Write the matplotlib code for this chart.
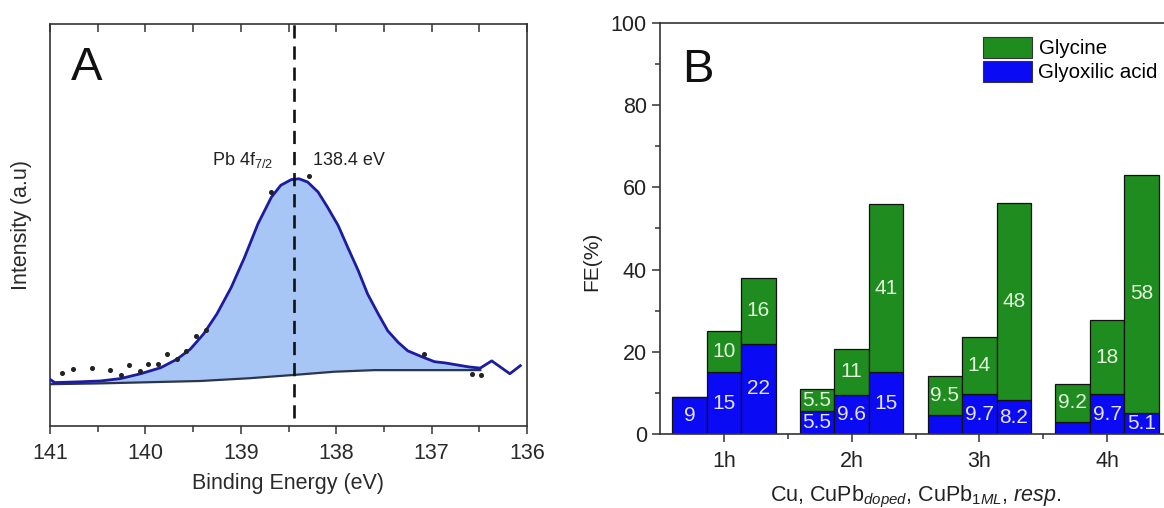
import numpy as np
import matplotlib
matplotlib.use("Agg")
import matplotlib.pyplot as plt
from matplotlib.ticker import MultipleLocator, FixedLocator, NullLocator
from matplotlib.patches import Patch

plt.rcParams['font.family'] = ['Liberation Sans', 'DejaVu Sans']
plt.rcParams['mathtext.fontset'] = 'custom'
plt.rcParams['mathtext.rm'] = 'Liberation Sans'
plt.rcParams['mathtext.it'] = 'Liberation Sans:italic'
plt.rcParams['mathtext.bf'] = 'Liberation Sans:bold'

# ---------------- Panel A data (XPS Pb 4f7/2) ----------------
fit_energy = [141.00, 140.95, 140.68, 140.47, 140.26, 140.05, 139.84, 139.67, 139.53,
              139.39, 139.25, 139.10, 138.96, 138.82, 138.68, 138.58, 138.47, 138.39,
              138.30, 138.19, 138.09, 137.98, 137.88, 137.77, 137.67, 137.56, 137.46,
              137.35, 137.25, 137.10, 136.97, 136.86, 136.61, 136.49,
              136.37, 136.18, 136.07]
fit_intensity = [0.116, 0.108, 0.110, 0.112, 0.118, 0.130, 0.145, 0.166, 0.191,
                 0.229, 0.279, 0.345, 0.420, 0.503, 0.569, 0.599, 0.613, 0.615,
                 0.607, 0.582, 0.544, 0.499, 0.445, 0.387, 0.328, 0.279, 0.237,
                 0.208, 0.187, 0.172, 0.160, 0.157, 0.147, 0.144,
                 0.162, 0.130, 0.150]
bg_energy = [141.00, 140.47, 139.42, 138.90, 138.445, 138.02, 137.60, 136.49]
bg_intensity = [0.104, 0.106, 0.112, 0.119, 0.127, 0.135, 0.139, 0.139]
data_energy = [140.87, 140.76, 140.56, 140.37, 140.26, 140.17, 140.06, 139.97, 139.87,
               139.77, 139.67, 139.57, 139.47, 139.37, 138.68, 138.28, 137.08,
               136.58, 136.48]
data_intensity = [0.133, 0.141, 0.144, 0.140, 0.127, 0.151, 0.137, 0.154, 0.155,
                  0.180, 0.166, 0.187, 0.223, 0.239, 0.582, 0.621, 0.178,
                  0.130, 0.126]
peak_position = 138.44
fill_end = 136.49

# ---------------- Panel B data (FE %) ----------------
hours = ['1h', '2h', '3h', '4h']
glyoxilic_cu = [9, 5.5, 4.6, 3.0]
glyoxilic_doped = [15, 9.6, 9.7, 9.7]
glyoxilic_1ml = [22, 15, 8.2, 5.1]
glycine_cu = [0, 5.5, 9.5, 9.2]
glycine_doped = [10, 11, 14, 18]
glycine_1ml = [16, 41, 48, 58]

W, H = 1164, 508
fig = plt.figure(figsize=(W / 100, H / 100), dpi=100)

# ================= Panel A =================
axA = fig.add_axes([50 / W, (H - 426) / H, 477 / W, 402 / H])
fe = np.array(fit_energy)
fi = np.array(fit_intensity)
mask = fe >= fill_end
poly_x = np.concatenate([fe[mask], np.array(bg_energy)[::-1]])
poly_y = np.concatenate([fi[mask], np.array(bg_intensity)[::-1]])
axA.fill(poly_x, poly_y, color='#a7c6f6', lw=0, zorder=1)
axA.plot(bg_energy, bg_intensity, color='#2b3550', lw=1.6, zorder=2)
axA.plot(fit_energy, fit_intensity, color='#1c1ca0', lw=2.0, zorder=3,
         solid_joinstyle='round')
axA.plot(data_energy, data_intensity, 'o', color='#222222', ms=2.6, zorder=4)
axA.plot([peak_position, peak_position], [0.02, 1.0], color='#111111', lw=1.9,
         linestyle=(0, (5, 3)), zorder=5)

axA.set_xlim(141, 136)
axA.set_ylim(0, 1)
axA.xaxis.set_major_locator(MultipleLocator(1))
axA.xaxis.set_minor_locator(MultipleLocator(0.5))
axA.yaxis.set_major_locator(NullLocator())
axA.tick_params(axis='x', which='major', direction='out', length=6, width=1.1,
                labelsize=15.5, colors='#333333', labelcolor='#2a2a2a', pad=6)
axA.tick_params(axis='x', which='minor', direction='out', length=4, width=1.1, colors='#333333')
secA = axA.secondary_xaxis('top')
secA.xaxis.set_major_locator(MultipleLocator(1))
secA.xaxis.set_minor_locator(MultipleLocator(0.5))
secA.tick_params(axis='x', which='both', direction='in', length=6, width=1.1,
                 labeltop=False, colors='#333333')
secA.spines['top'].set_visible(False)
for s in axA.spines.values():
    s.set_color('#333333')
    s.set_linewidth(1.2)
axA.set_xlabel('Binding Energy (eV)', fontsize=15.5, color='#2a2a2a', labelpad=7)
axA.set_ylabel('Intensity (a.u)', fontsize=15.5, color='#2a2a2a', labelpad=13)
axA.text(0.044, (426 - 80) / 402, 'A', transform=axA.transAxes, fontsize=34,
         va='baseline', ha='left', color='#111111')
axA.text(138.66, 0.65, r'Pb 4f$_{7/2}$', fontsize=13, ha='right', va='baseline', color='#222222')
axA.text(138.24, 0.65, '138.4 eV', fontsize=13, ha='left', va='baseline', color='#222222')

# ================= Panel B =================
axB = fig.add_axes([660 / W, (H - 434) / H, 511 / W, 411 / H])
x = np.arange(1, len(hours) + 1)
bw = 0.27
green = '#1e8c1e'
blue = '#0a0af5'
series = [(glyoxilic_cu, glycine_cu, -bw), (glyoxilic_doped, glycine_doped, 0.0),
          (glyoxilic_1ml, glycine_1ml, bw)]
for gly_a, gly_c, off in series:
    axB.bar(x + off, gly_a, bw, color=blue, edgecolor='#111111', lw=0.9, zorder=2)
    axB.bar(x + off, gly_c, bw, bottom=gly_a, color=green, edgecolor='#111111', lw=0.9, zorder=2)
    for xi, a, c in zip(x + off, gly_a, gly_c):
        if a >= 5:
            axB.text(xi, a / 2, f'{a:g}', ha='center', va='center', fontsize=15,
                     color='#e4e4ff', zorder=3)
        if c >= 5:
            axB.text(xi, a + c / 2, f'{c:g}', ha='center', va='center', fontsize=15,
                     color='#e2f5dc', zorder=3)

axB.set_xlim(0.5, 4.5)
axB.set_ylim(0, 100)
axB.xaxis.set_major_locator(FixedLocator(x))
axB.set_xticklabels(hours)
axB.xaxis.set_minor_locator(FixedLocator([1.5, 2.5, 3.5, 4.5]))
axB.yaxis.set_major_locator(MultipleLocator(20))
axB.yaxis.set_minor_locator(MultipleLocator(10))
axB.tick_params(axis='both', which='major', direction='out', length=6, width=1.1,
                labelsize=15.5, colors='#333333', labelcolor='#222222')
axB.tick_params(axis='both', which='minor', direction='out', length=3.5, width=1.1,
                colors='#333333')
axB.tick_params(axis='x', which='major', pad=6)
for s in axB.spines.values():
    s.set_color('#333333')
    s.set_linewidth(1.2)
axB.set_ylabel('FE(%)', fontsize=15, color='#222222')
axB.yaxis.set_label_coords(-0.115, 0.42)
axB.set_xlabel(r'Cu, CuPb$_{\it doped}$, CuPb$_{\it 1ML}$, $\it resp.$', fontsize=15.5,
               color='#222222', labelpad=9)
axB.text((682 - 660) / 511, (434 - 82) / 411, 'B', transform=axB.transAxes, fontsize=34,
         va='baseline', ha='left', color='#111111')

handles = [Patch(facecolor=green, edgecolor='#333333', lw=0.8, label='Glycine'),
           Patch(facecolor=blue, edgecolor='#333333', lw=0.8, label='Glyoxilic acid')]
fig.legend(handles=handles, loc='upper left', bbox_to_anchor=(983 / W, 1 - 37 / H),
           bbox_transform=fig.transFigure, frameon=False, fontsize=14.8,
           handlelength=2.4, handleheight=1.2, handletextpad=0.3, labelspacing=0.12,
           borderpad=0, borderaxespad=0)

fig.savefig('out.png', dpi=100)
